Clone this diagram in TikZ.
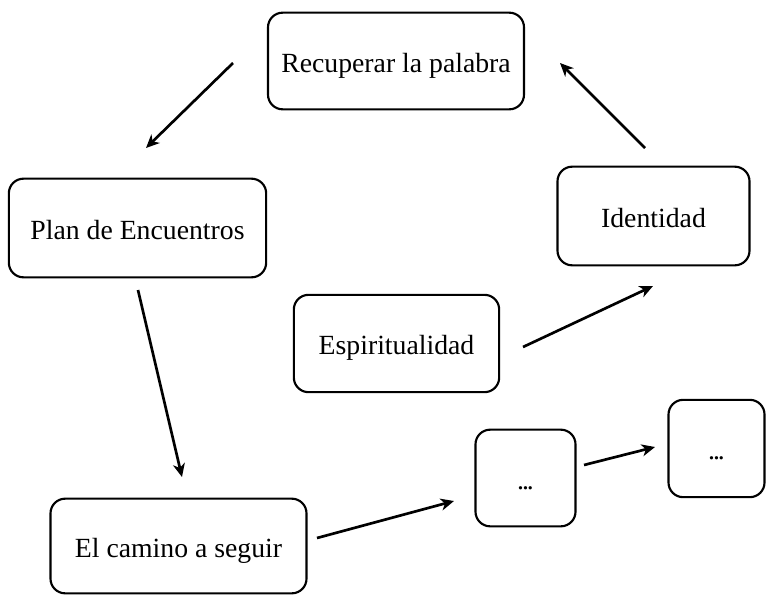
\documentclass[tikz,border=0pt]{standalone}
\usepackage{fontspec}
\setmainfont{Liberation Serif}
\usetikzlibrary{arrows.meta}

\newcommand{\tightdots}{.\kern-1.5pt.\kern-1.5pt.}

\tikzset{
  box/.style={draw,rounded corners=11pt,line width=1.6pt,inner sep=0pt,
    text height=20.8pt,text depth=4.2pt},
}

\begin{document}
\begin{tikzpicture}[x=0.75pt,y=-0.75pt,line width=2pt,
    >={Stealth[length=10pt,width=9pt,inset=3pt]},
    font=\fontsize{20.8}{25}\selectfont]
      \useasboundingbox (0,0) rectangle (766,596);

      \node[box,minimum width=192pt,minimum height=72.5pt] (1) at (396,61) {Recuperar la palabra};
      \node[box,minimum width=193pt,minimum height=74pt] (2) at (137.5,228) {Plan de Encuentros};
      \node[box,minimum width=192pt,minimum height=71pt] (3) at (178.5,546) {El camino a seguir};
      \node[box,minimum width=75pt,minimum height=72.5pt] (4) at (525.5,478) {\tightdots};
      \node[box,minimum width=72pt,minimum height=73pt] (5) at (716.5,448.5) {\tightdots};
      \node[box,minimum width=154pt,minimum height=73pt] (6) at (396.5,343.5) {Espiritualidad};
      \node[box,minimum width=144pt,minimum height=74pt] (7) at (653.5,216) {Identidad};

      \coordinate (a1) at (233,63);  \coordinate (b1) at (146,148);
      \coordinate (a2) at (138,290); \coordinate (b2) at (182,477);
      \coordinate (a3) at (317,538); \coordinate (b3) at (454,501);
      \coordinate (a4) at (584,465); \coordinate (b4) at (655,447);
      \coordinate (a5) at (523,347); \coordinate (b5) at (653,286);
      \coordinate (a6) at (645,148); \coordinate (b6) at (560,63);

      \draw[->] (a1) -- (b1);
      \draw[->] (a2) -- (b2);
      \draw[->] (a3) -- (b3);
      \draw[->] (a4) -- (b4);
      \draw[->] (a5) -- (b5);
      \draw[->] (a6) -- (b6);
    \end{tikzpicture}
\end{document}
